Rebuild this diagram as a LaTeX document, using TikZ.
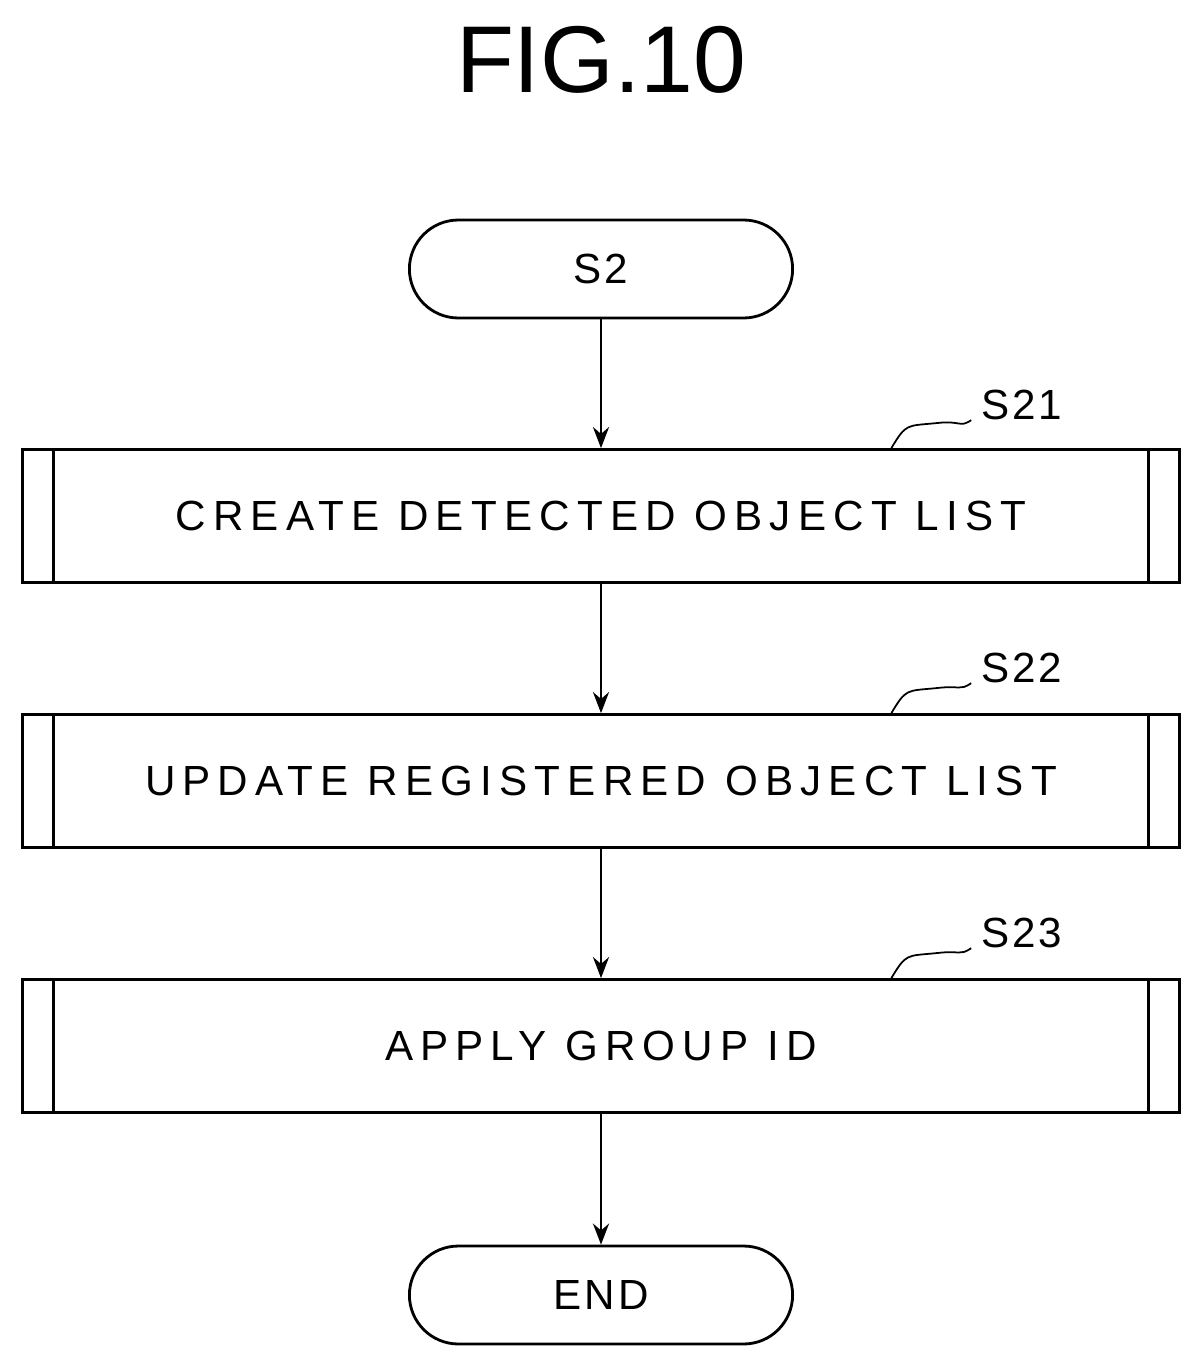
\documentclass[tikz,border=0pt]{standalone}
\usepackage{fontspec}
\setmainfont{Liberation Sans}
\usetikzlibrary{shapes.misc, positioning}
\usetikzlibrary{arrows.meta}
\tikzset{>={Stealth[width=3.2mm,length=4.2mm]}}
\begin{document}
\begin{tikzpicture}[x=0.02cm, y=-0.02cm, line width=1.6pt,
  term/.style={rounded rectangle, draw, minimum width=7.9cm, minimum height=1.96cm, font=\fontsize{24}{28}\selectfont\addfontfeatures{LetterSpace=8}},
  proc/.style={rectangle, draw, minimum width=23.16cm, minimum height=2.66cm, font=\fontsize{24}{28}\selectfont\addfontfeatures{LetterSpace=17}},
  steplabel/.style={font=\fontsize{24}{28}\selectfont\addfontfeatures{LetterSpace=6}}]
    \useasboundingbox (0,0) rectangle (1202,1365);

    %Nodes
    \node[font=\fontsize{54}{60}\selectfont](title) at (601,60){FIG.10};
    \node[term](start) at (601,269){S2};
    \node[proc](create) at (601,516){CREATE DETECTED OBJECT LIST};
    \node[proc](update) at (601,781){UPDATE REGISTERED OBJECT LIST};
    \node[proc](apply) at (601,1046){APPLY GROUP ID};
    \node[term](stop) at (601,1295){END};

    \node[steplabel](s21) at (1022,405){S21};
    \node[steplabel](s22) at (1022,668){S22};
    \node[steplabel](s23) at (1022,933){S23};

    %Side bars
    \foreach \b in {create, update, apply}{
        \draw ([xshift=0.66cm]\b.north west) -- ([xshift=0.66cm]\b.south west);
        \draw ([xshift=-0.66cm]\b.north east) -- ([xshift=-0.66cm]\b.south east);
    }

    %Lines
    \draw[->] (start.south) -- (create.north);
    \draw[->] (create.south) -- (update.north);
    \draw[->] (update.south) -- (apply.north);
    \draw[->] (apply.south) -- (stop.north);

    %Label leaders
    \foreach \b/\l in {create/s21, update/s22, apply/s23}{
        \draw[line width=1pt] ([xshift=-5.8cm]\b.north east)
            .. controls +(15,-25) and +(-30,3) .. ++(45,-25)
            .. controls +(25,-3) and +(-12,8) .. ([xshift=-2pt,yshift=4pt]\l.south west);
    }
\end{tikzpicture}
\end{document}
